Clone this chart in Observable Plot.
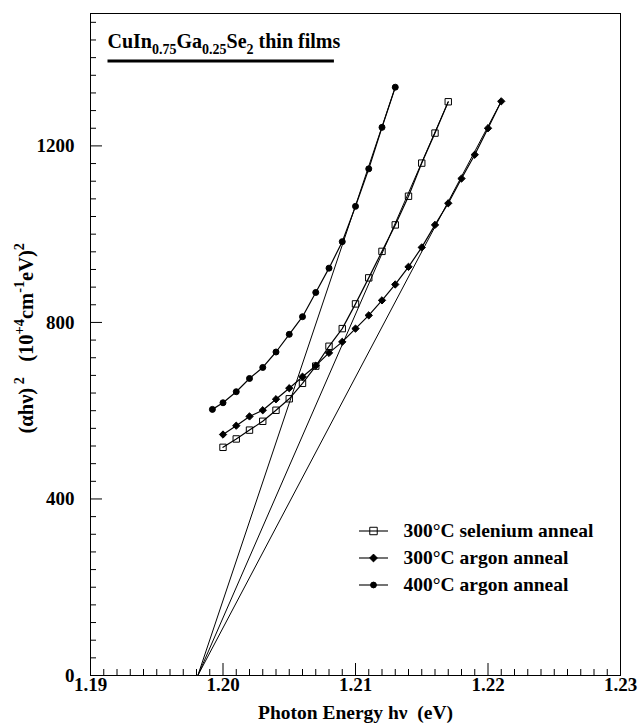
<!DOCTYPE html>
<html><head><meta charset="utf-8">
<script src="https://cdn.jsdelivr.net/npm/d3@7"></script>
<script src="https://cdn.jsdelivr.net/npm/@observablehq/plot@0.6"></script>
<style>body{margin:0;background:#fff}</style>
</head><body><div id="chart"></div>
<script>
// ---- data ----
const seriesNames = ["300°C selenium anneal", "300°C argon anneal", "400°C argon anneal"];
const energySe = [1.200,1.201,1.202,1.203,1.204,1.205,1.206,1.207,1.208,1.209,1.210,1.211,1.212,1.213,1.214,1.215,1.216,1.217];
const alphaSe  = [517,536,556,576,601,627,662,701,746,786,842,901,961,1021,1086,1161,1229,1300];
const energyAr300 = [1.200,1.201,1.202,1.203,1.204,1.205,1.206,1.207,1.208,1.209,1.210,1.211,1.212,1.213,1.214,1.215,1.216,1.217,1.218,1.219,1.220,1.221];
const alphaAr300  = [546,566,587,601,626,651,677,702,731,756,786,816,850,886,926,970,1021,1070,1126,1180,1240,1301];
const energyAr400 = [1.1992,1.200,1.201,1.202,1.203,1.204,1.205,1.206,1.207,1.208,1.209,1.210,1.211,1.212,1.213];
const alphaAr400  = [603,618,643,673,698,733,773,813,868,923,983,1063,1148,1242,1333];
const fitIntercept = [1.1981, 1.1981, 1.1981]; // band-gap extrapolation (alpha^2 = 0)
const xTicks = [1.19, 1.20, 1.21, 1.22, 1.23];
const yTicks = [0, 400, 800, 1200];
const titleText = "CuIn_{0.75}Ga_{0.25}Se_{2} thin films";
const xLabel = "Photon Energy hν  (eV)";
const yLabel = "(αhν)^{ 2}   (10^{+4}cm^{-1}eV)^{2}";

// ---- build tables ----
const energies = [energySe, energyAr300, energyAr400];
const alphas = [alphaSe, alphaAr300, alphaAr400];
const rows = [];
seriesNames.forEach((s, i) => energies[i].forEach((e, j) => rows.push({series: s, energy: e, alpha: alphas[i][j]})));
const fits = seriesNames.map((s, i) => ({
  series: s, x1: fitIntercept[i], y1: 0,
  x2: energies[i][energies[i].length - 1], y2: alphas[i][alphas[i].length - 1]
}));
const xMinor = d3.range(1190, 1231).map(d => d / 1000).filter(d => !xTicks.some(t => Math.abs(t - d) < 1e-9));
const yMinor = d3.range(0, 1501, 40).filter(d => d % 400 !== 0);

const symbols = {"300°C selenium anneal": "square", "300°C argon anneal": "diamond2", "400°C argon anneal": "circle"};
const sizes = {"300°C selenium anneal": 4.2, "300°C argon anneal": 3.5, "400°C argon anneal": 2.9};
const fills = {"300°C selenium anneal": "none", "300°C argon anneal": "black", "400°C argon anneal": "black"};
const lineSymbol = {draw(ctx) { ctx.moveTo(-14.5, 0); ctx.lineTo(14.5, 0); }};

const FONT = "'Liberation Serif', 'Times New Roman', serif";

const legendMarks = seriesNames.flatMap((s, i) => [
  Plot.dot([0], {frameAnchor: "top-left", dx: 283, dy: 517.5 + i * 27, symbol: lineSymbol, stroke: "black", strokeWidth: 1.1, fill: "none"}),
  Plot.dot([0], {frameAnchor: "top-left", dx: 283, dy: 517.5 + i * 27, symbol: symbols[s], r: sizes[s], stroke: "black", strokeWidth: 1, fill: fills[s]}),
  Plot.text([s], {frameAnchor: "top-left", dx: 313, dy: 517.5 + i * 27, textAnchor: "start", lineAnchor: "middle", fontSize: 19.5, fontWeight: "bold", fill: "black", fontFamily: FONT})
]);

const plot = Plot.plot({
  width: 639, height: 725,
  marginLeft: 90, marginRight: 19, marginTop: 13, marginBottom: 50,
  style: {fontFamily: FONT, fontWeight: "bold", fontSize: "19px", color: "black", background: "white"},
  x: {domain: [1.19, 1.23]},
  y: {domain: [0, 1500]},
  marks: [
    Plot.frame({stroke: "black", strokeWidth: 1}),
    // minor & major inward ticks
    Plot.axisX({ticks: xMinor, tickSize: -6, fill: "none", label: null, anchor: "bottom"}),
    Plot.axisX({ticks: xTicks, tickSize: -12, fill: "none", label: null, anchor: "bottom"}),
    Plot.axisX({ticks: xTicks, tickSize: 0, tickPadding: 2, tickFormat: d3.format(".2f"), label: null, anchor: "bottom", fontFamily: FONT}),
    Plot.axisY({ticks: yMinor, tickSize: -6, fill: "none", label: null, anchor: "left"}),
    Plot.axisY({ticks: yTicks, tickSize: -12, fill: "none", label: null, anchor: "left"}),
    Plot.axisY({ticks: yTicks, tickSize: 0, tickPadding: 16, dy: 0, tickFormat: d3.format("d"), label: null, anchor: "left", fontFamily: FONT}),
    // fit lines
    Plot.link(fits, {x1: "x1", y1: "y1", x2: "x2", y2: "y2", stroke: "black", strokeWidth: 1}),
    // data
    Plot.line(rows, {x: "energy", y: "alpha", z: "series", stroke: "black", strokeWidth: 1.2}),
    Plot.dot(rows, {x: "energy", y: "alpha", symbol: d => symbols[d.series], r: d => sizes[d.series], fill: d => fills[d.series], stroke: "black", strokeWidth: 1}),
    // title
    Plot.text([titleText], {frameAnchor: "top-left", dx: 17, dy: 34.5, textAnchor: "start", lineAnchor: "bottom", fontSize: 20, fontWeight: "bold", fill: "black", fontFamily: FONT}),
    // axis labels
    Plot.text([xLabel], {frameAnchor: "bottom", dy: 43, lineAnchor: "bottom", fontSize: 19.5, fontWeight: "bold", fill: "black", fontFamily: FONT}),
    Plot.text([yLabel], {frameAnchor: "left", dx: -64, dy: 89, rotate: -90, textAnchor: "start", lineAnchor: "middle", fontSize: 20.5, fontWeight: "bold", fill: "black", fontFamily: FONT}),
    ...legendMarks
  ]
});
document.getElementById("chart").append(plot);

// rich text: sub/superscripts as tspans
const NS = "http://www.w3.org/2000/svg";
function richify(el) {
  const s = el.textContent;
  const fs = parseFloat(getComputedStyle(el).fontSize) || 18;
  el.textContent = "";
  el.style.whiteSpace = "pre";
  const re = /([_^])\{([^}]*)\}/g;
  const parts = []; let last = 0, m;
  while ((m = re.exec(s))) {
    if (m.index > last) parts.push({t: s.slice(last, m.index), k: ""});
    parts.push({t: m[2], k: m[1]}); last = re.lastIndex;
  }
  if (last < s.length) parts.push({t: s.slice(last), k: ""});
  let shift = 0;
  for (const p of parts) {
    const ts = document.createElementNS(NS, "tspan");
    const target = p.k === "_" ? 0.3 * fs : p.k === "^" ? -0.42 * fs : 0;
    ts.setAttribute("dy", target - shift); shift = target;
    if (p.k) ts.setAttribute("font-size", 0.7 * fs);
    ts.textContent = p.t;
    el.appendChild(ts);
  }
}
d3.select(plot).selectAll("text").each(function() {
  if (/[_^]\{/.test(this.textContent)) {
    const isTitle = this.textContent === titleText;
    richify(this);
    if (isTitle) {
      const bb = this.getBBox();
      const ln = document.createElementNS(NS, "line");
      ln.setAttribute("transform", this.getAttribute("transform") || "");
      ln.setAttribute("x1", bb.x); ln.setAttribute("x2", bb.x + bb.width * 0.972);
      ln.setAttribute("y1", 13); ln.setAttribute("y2", 13);
      ln.setAttribute("stroke", "black"); ln.setAttribute("stroke-width", 3);
      this.parentNode.appendChild(ln);
    }
  }
});
</script>
</body></html>
